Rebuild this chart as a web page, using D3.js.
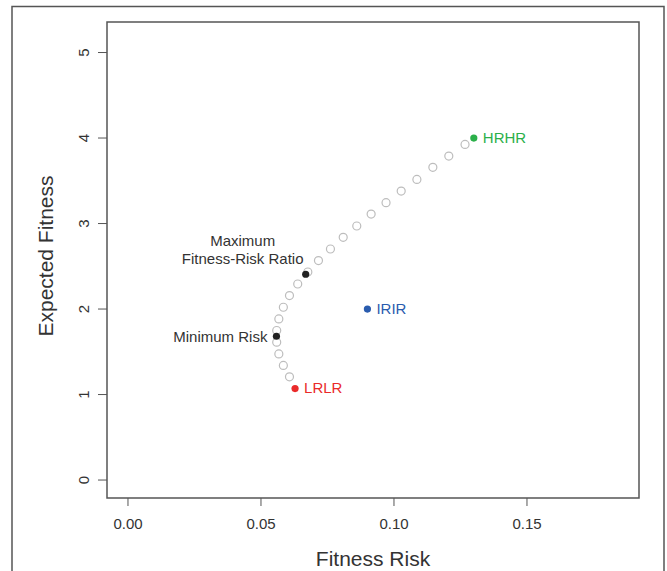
<!DOCTYPE html>
<meta charset="utf-8">
<style>
body { margin: 0; background: #fff; }
text { font-family: "Liberation Sans", Arial, sans-serif; fill: #333; }
.axis path, .axis line { fill: none; stroke: #555; }
</style>
<body></body>
<script src="https://cdnjs.cloudflare.com/ajax/libs/d3/7.8.5/d3.min.js"></script>
<script>
// efficient frontier (open grey circles)
var frontierRisk = [0.1269, 0.1208, 0.1148, 0.1088, 0.1029, 0.0972, 0.0916, 0.0862, 0.0811, 0.0763,
                    0.0718, 0.0678, 0.0640, 0.0609, 0.0586, 0.0569, 0.0561, 0.0561, 0.0569, 0.0586, 0.0609];
var frontierFitness = [3.925, 3.789, 3.657, 3.516, 3.380, 3.244, 3.111, 2.971, 2.839, 2.702,
                       2.567, 2.433, 2.293, 2.158, 2.021, 1.884, 1.749, 1.612, 1.475, 1.340, 1.207];

// named strategies
var stratNames = ["HRHR", "IRIR", "LRLR"];
var stratRisk = [0.1302, 0.0902, 0.0630];
var stratFitness = [4.0, 2.0, 1.07];
var stratColors = ["#2bb04a", "#2a5cae", "#ea2a2a"];

// special frontier points
var specialNames = ["Maximum Fitness-Risk Ratio", "Minimum Risk"];
var specialRisk = [0.0670, 0.0560];
var specialFitness = [2.407, 1.682];

var xTicks = [0, 0.05, 0.10, 0.15];
var yTicks = [0, 1, 2, 3, 4, 5];

var W = 667, H = 571;
var box = {left: 107, right: 639, top: 22, bottom: 498};

var svg = d3.select("body").append("svg")
    .attr("width", W)
    .attr("height", H);

// outer frame
svg.append("rect")
    .attr("x", 12).attr("y", 6.5)
    .attr("width", 652).attr("height", 600)
    .attr("fill", "none").attr("stroke", "#555").attr("stroke-width", 1.5);

var x = d3.scaleLinear().domain([-0.0077, 0.1923]).range([box.left, box.right]);
var y = d3.scaleLinear().domain([-0.21, 5.357]).range([box.bottom, box.top]);

var xAxis = d3.axisBottom(x).tickValues(xTicks).tickFormat(d3.format(".2f")).tickSize(8).tickPadding(12);
var yAxis = d3.axisLeft(y).tickValues(yTicks).tickFormat(d3.format("d")).tickSize(9).tickPadding(8);

svg.append("g")
    .attr("class", "x axis")
    .attr("transform", "translate(0," + box.bottom + ")")
    .call(xAxis)
    .call(function(g) { g.select(".domain").remove(); })
    .selectAll("text")
    .style("font-size", "15px").style("fill", "#333").style("font-family", "Liberation Sans, Arial, sans-serif");

var gy = svg.append("g")
    .attr("class", "y axis")
    .attr("transform", "translate(" + box.left + ",0)")
    .call(yAxis)
    .call(function(g) { g.select(".domain").remove(); });
gy.selectAll("text")
    .attr("x", null).attr("dy", null)
    .attr("transform", function(d) { return "translate(-24," + y(d) + ") rotate(-90)"; })
    .attr("y", 0)
    .style("text-anchor", "middle")
    .style("dominant-baseline", "central")
    .style("font-size", "15px").style("fill", "#333").style("font-family", "Liberation Sans, Arial, sans-serif");
gy.selectAll(".tick").attr("transform", null);
gy.selectAll(".tick line").attr("y1", function(d) { return y(d); }).attr("y2", function(d) { return y(d); });

// plot box
svg.append("rect")
    .attr("x", box.left).attr("y", box.top)
    .attr("width", box.right - box.left).attr("height", box.bottom - box.top)
    .attr("fill", "none").attr("stroke", "#555").attr("stroke-width", 1.5);

// axis titles
svg.append("text")
    .attr("x", (box.left + box.right) / 2).attr("y", 566)
    .attr("text-anchor", "middle")
    .style("font-size", "21px")
    .text("Fitness Risk");

svg.append("text")
    .attr("transform", "translate(53," + 256 + ") rotate(-90)")
    .attr("text-anchor", "middle")
    .style("font-size", "21px")
    .text("Expected Fitness");

// frontier circles
svg.selectAll(".front")
    .data(d3.range(frontierRisk.length))
    .enter().append("circle")
    .attr("class", "front")
    .attr("cx", function(i) { return x(frontierRisk[i]); })
    .attr("cy", function(i) { return y(frontierFitness[i]); })
    .attr("r", 4)
    .attr("fill", "none")
    .attr("stroke", "#bdbdbd")
    .attr("stroke-width", 1.2);

// special points (black)
svg.selectAll(".special")
    .data(d3.range(specialRisk.length))
    .enter().append("circle")
    .attr("class", "special")
    .attr("cx", function(i) { return x(specialRisk[i]); })
    .attr("cy", function(i) { return y(specialFitness[i]); })
    .attr("r", 3.6)
    .attr("fill", "#222");

var maxLabel = svg.append("text")
    .attr("x", x(specialRisk[0]) - 63)
    .attr("y", y(specialFitness[0]) - 34)
    .attr("text-anchor", "middle")
    .style("font-size", "15px")
    .style("dominant-baseline", "central");
maxLabel.append("tspan").text("Maximum");
maxLabel.append("tspan")
    .attr("x", x(specialRisk[0]) - 63)
    .attr("dy", 18)
    .text("Fitness-Risk Ratio");

svg.append("text")
    .attr("x", x(specialRisk[1]) - 9)
    .attr("y", y(specialFitness[1]))
    .attr("text-anchor", "end")
    .style("font-size", "15px")
    .style("dominant-baseline", "central")
    .text(specialNames[1]);

// strategy points
svg.selectAll(".strat")
    .data(d3.range(stratNames.length))
    .enter().append("circle")
    .attr("class", "strat")
    .attr("cx", function(i) { return x(stratRisk[i]); })
    .attr("cy", function(i) { return y(stratFitness[i]); })
    .attr("r", 3.6)
    .attr("fill", function(i) { return stratColors[i]; });

svg.selectAll(".stratLabel")
    .data(d3.range(stratNames.length))
    .enter().append("text")
    .attr("class", "stratLabel")
    .attr("x", function(i) { return x(stratRisk[i]) + 9; })
    .attr("y", function(i) { return y(stratFitness[i]) - 1; })
    .style("font-size", "15px")
    .style("dominant-baseline", "central")
    .style("fill", function(i) { return stratColors[i]; })
    .text(function(i) { return stratNames[i]; });
</script>
